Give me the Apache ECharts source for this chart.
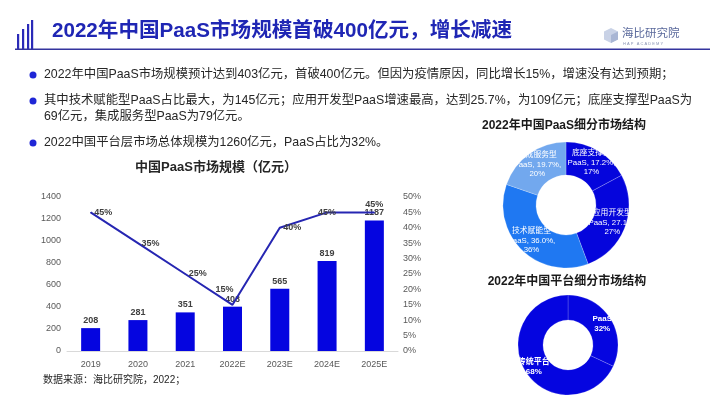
<!DOCTYPE html>
<html>
<head>
<meta charset="utf-8">
<script src="https://cdn.jsdelivr.net/npm/echarts@6/dist/echarts.min.js"></script>
<style>
html,body{margin:0;padding:0;background:#fff;}
#main{width:710px;height:399px;}
</style>
</head>
<body>
<div id="main"></div>
<script>
// 数据
var years = ['2019', '2020', '2021', '2022E', '2023E', '2024E', '2025E'];
var scale = [208, 281, 351, 403, 565, 819, 1187];
var growth = [45, 35, 25, 15, 40, 45, 45];
var growthPos = ['right', 'right', 'right', 'top', 'right', 'inside', 'top'];
var leftTicks = [0, 1400, 200];
var rightTicks = [0, 50, 5];

var segNames = ['底座支撑型', '应用开发型', '技术赋能型', '集成服务型'];
var segValues = [17.2, 27.1, 36.0, 19.7];
var segColors = ['#0505dc', '#0505dc', '#1f78f2', '#72a8ee'];

var platNames = ['PaaS', '传统平台'];
var platValues = [32, 68];

var bullets = [
	'2022年中国PaaS市场规模预计达到403亿元，首破400亿元。但因为疫情原因，同比增长15%，增速没有达到预期；',
	'其中技术赋能型PaaS占比最大，为145亿元；应用开发型PaaS增速最高，达到25.7%，为109亿元；底座支撑型PaaS为',
	'69亿元，集成服务型PaaS为79亿元。',
	'2022中国平台层市场总体规模为1260亿元，PaaS占比为32%。'
];

var FONT = '"Liberation Sans", "Noto Sans CJK SC", sans-serif';
var myChart = echarts.init(document.getElementById('main'));

//页眉
var graphics = [];
var barX = [17, 22, 27, 31], barTop = [34, 29, 24, 20];
for (var i = 0; i < barX.length; i++) {
	graphics.push({ type: 'rect', shape: { x: barX[i], y: barTop[i], width: 2.2, height: 49 - barTop[i] }, style: { fill: '#2a2ab8' } });
}
graphics.push({ type: 'rect', shape: { x: 15, y: 48.5, width: 695, height: 1.6 }, style: { fill: '#34349e' } });
graphics.push({ type: 'text', x: 52, y: 31, style: { text: '2022年中国PaaS市场规模首破400亿元，增长减速', font: 'bold 20.6px ' + FONT, fill: '#1f26b4', textVerticalAlign: 'middle' } });

// logo
graphics.push({ type: 'polygon', shape: { points: [[611, 28], [618, 31.5], [618, 39.5], [611, 43], [604, 39.5], [604, 31.5]] }, style: { fill: '#c9d2e6' } });
graphics.push({ type: 'polygon', shape: { points: [[611, 35], [618, 31.5], [618, 39.5], [611, 43]] }, style: { fill: '#a9b6d4' } });
graphics.push({ type: 'text', x: 622, y: 33, style: { text: '海比研究院', font: '11.5px "Noto Sans CJK SC"', fill: '#5b6a9c', textVerticalAlign: 'middle' } });
graphics.push({ type: 'text', x: 623, y: 43.5, style: { text: 'H A P   A C A D E M Y', font: '4px ' + FONT, fill: '#8a94b4', textVerticalAlign: 'middle' } });

// 要点
var bulletY = [75, 101, 117, 143];
for (var j = 0; j < bullets.length; j++) {
	if (j != 2) {
		graphics.push({ type: 'circle', shape: { cx: 33, cy: bulletY[j], r: 3.5 }, style: { fill: '#1f26d6' } });
	}
	graphics.push({ type: 'text', x: 44, y: bulletY[j], style: { text: bullets[j], font: '12.35px ' + FONT, fill: '#262626', textVerticalAlign: 'middle' } });
}

// 标题
graphics.push({ type: 'text', x: 216, y: 167, style: { text: '中国PaaS市场规模（亿元）', font: 'bold 13px ' + FONT, fill: '#262626', textAlign: 'center', textVerticalAlign: 'middle' } });
graphics.push({ type: 'text', x: 564, y: 126, style: { text: '2022年中国PaaS细分市场结构', font: 'bold 12px ' + FONT, fill: '#1a1a1a', textAlign: 'center', textVerticalAlign: 'middle' } });
graphics.push({ type: 'text', x: 567, y: 282, style: { text: '2022年中国平台细分市场结构', font: 'bold 12px ' + FONT, fill: '#1a1a1a', textAlign: 'center', textVerticalAlign: 'middle' } });
graphics.push({ type: 'text', x: 43, y: 380, style: { text: '数据来源：海比研究院，2022；', font: '10px ' + FONT, fill: '#262626', textVerticalAlign: 'middle' } });

var growthData = growth.map(function (v, k) {
	var lab = { position: growthPos[k] };
	if (years[k] == '2022E') { lab.offset = [-8, -7]; }
	return { value: v, label: lab };
});

var segData = segNames.map(function (n, k) {
	return { name: n, value: segValues[k], itemStyle: { color: segColors[k] } };
});
var platData = platNames.map(function (n, k) {
	return { name: n, value: platValues[k] };
});

var option = {
	animation: false,
	textStyle: { fontFamily: FONT },
	graphic: graphics,
	grid: { left: 67, right: 312, top: 197, bottom: 48 },
	xAxis: [{
		type: 'category',
		data: years,
		axisLine: { lineStyle: { color: '#d9d9d9' } },
		axisTick: { show: false },
		axisLabel: { color: '#595959', fontSize: 9, margin: 9 }
	}],
	yAxis: [{
		type: 'value',
		min: leftTicks[0], max: leftTicks[1], interval: leftTicks[2],
		splitLine: { show: false },
		axisLine: { show: false },
		axisLabel: { color: '#595959', fontSize: 9, margin: 6, formatter: function (v) { return String(v); } }
	}, {
		type: 'value',
		min: rightTicks[0], max: rightTicks[1], interval: rightTicks[2],
		splitLine: { show: false },
		axisLine: { show: false },
		axisLabel: { color: '#595959', fontSize: 9, margin: 5, formatter: '{value}%' }
	}],
	series: [{
		name: '市场规模',
		type: 'bar',
		data: scale,
		barWidth: 19,
		itemStyle: { color: '#0505e0' },
		label: { show: true, position: 'top', distance: 3, color: '#404040', fontSize: 9, fontWeight: 'bold' }
	}, {
		name: '增长率',
		type: 'line',
		yAxisIndex: 1,
		data: growthData,
		symbol: 'circle',
		symbolSize: 1,
		lineStyle: { color: '#2626b2', width: 2 },
		itemStyle: { color: '#2626b2' },
		label: { show: true, color: '#404040', fontSize: 9, fontWeight: 'bold', distance: 3, formatter: '{c}%' }
	}, {
		name: '细分市场',
		type: 'pie',
		center: [566, 205],
		radius: [30, 63],
		startAngle: 90,
		clockwise: true,
		data: segData,
		itemStyle: { borderColor: 'rgba(255,255,255,0.35)', borderWidth: 0.6 },
		label: {
			show: true, position: 'inside', color: '#fff', fontSize: 7.8, lineHeight: 9.5,
			formatter: function (p) { return p.name + '\nPaaS, ' + p.value.toFixed(1) + '%,\n' + Math.round(p.value) + '%'; }
		},
		labelLine: { show: false }
	}, {
		name: '平台市场',
		type: 'pie',
		center: [568, 345],
		radius: [25, 50],
		startAngle: 90,
		clockwise: true,
		data: platData,
		itemStyle: { color: '#0505e0', borderColor: 'rgba(255,255,255,0.3)', borderWidth: 0.6 },
		label: {
			show: true, position: 'inside', color: '#fff', fontSize: 8, lineHeight: 10, fontWeight: 'bold',
			formatter: '{b}\n{c}%'
		},
		labelLine: { show: false }
	}]
};
myChart.setOption(option);
</script>
</body>
</html>
